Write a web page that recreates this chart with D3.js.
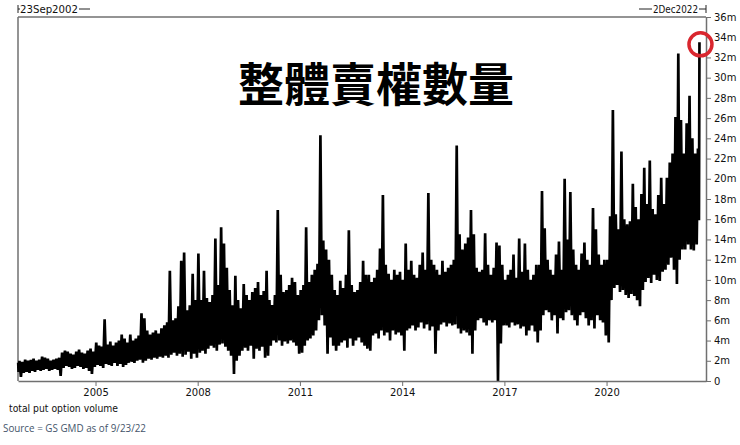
<!DOCTYPE html>
<html><head><meta charset="utf-8">
<script src="https://cdn.jsdelivr.net/npm/d3@7"></script>
<style>body{margin:0;background:#fff}svg{display:block}</style>
</head><body>
<svg id="c" width="740" height="445"></svg>
<script>
// ---- data ----
const startDate = "2002-09-23";
const endDate = "2022-12-02";
const lastDate = "2022-09-23";
const firstMonth = "2002-09-01";
const titleText = "整體賣權數量";
const xTickYears = [2005, 2008, 2011, 2014, 2017, 2020];
const yTickValues = [0,2,4,6,8,10,12,14,16,18,20,22,24,26,28,30,32,34,36];
// monthly high / low of total put option volume (millions), Sep 2002 .. Sep 2022
const monthlyHigh = [
  1.8,2.0,1.9,2.1,                                         // 2002 Sep-Dec
  2.0,2.1,2.2,2.0,2.1,2.4,2.3,2.2,2.0,2.1,2.2,2.3,         // 2003
  2.8,3.0,2.9,2.7,2.6,2.9,3.1,2.8,2.7,3.0,3.2,2.9,         // 2004
  3.8,3.5,3.4,6.1,3.6,3.9,3.5,3.8,4.0,4.6,4.2,3.8,         // 2005
  4.6,4.0,4.2,4.5,6.7,6.2,5.0,4.6,4.8,5.0,4.7,5.2,         // 2006
  5.5,5.8,10.9,6.0,6.2,7.4,11.9,12.7,7.0,7.5,10.6,8.0,     // 2007
  12.6,8.0,10.9,8.2,7.8,8.5,14.1,9.5,15.2,13.6,11.2,9.0,   // 2008
  7.5,10.4,8.0,7.2,9.6,8.5,8.0,8.8,9.2,9.8,8.5,8.9,        // 2009
  10.9,8.0,7.5,8.5,16.9,10.5,8.8,9.0,9.5,10.2,9.8,8.5,     // 2010
  9.0,9.5,15.2,9.8,10.5,11.0,11.6,24.3,13.9,13.0,12.0,10.5,// 2011
  9.0,8.5,9.9,9.2,10.5,14.9,9.5,8.8,9.0,9.8,11.9,10.5,     // 2012
  10.5,9.8,10.2,11.0,13.1,18.4,11.5,10.6,10.0,11.0,10.5,10.8, // 2013
  10.0,13.6,11.0,11.9,10.5,10.2,11.5,12.7,11.0,18.6,12.0,11.5, // 2014
  11.0,10.5,11.9,10.8,11.2,11.5,12.0,23.3,14.5,13.0,13.6,14.2, // 2015
  16.9,14.5,11.2,10.8,11.0,14.6,11.5,10.5,11.2,13.7,13.4,11.5, // 2016
  10.0,10.5,11.0,12.5,10.2,14.1,10.8,13.6,11.0,10.0,10.5,11.5, // 2017
  11.5,18.8,15.1,12.0,11.0,10.5,12.5,13.8,11.0,20.0,14.0,18.7, // 2018
  13.0,11.5,11.0,12.6,13.7,12.0,11.5,17.1,15.0,12.5,11.5,12.0, // 2019
  12.0,16.3,26.8,16.5,15.0,22.7,16.0,15.5,15.8,19.5,17.2,16.0, // 2020
  18.5,21.1,17.5,21.8,17.0,16.5,18.4,20.1,17.5,20.1,21.6,22.5, // 2021
  26.1,32.4,25.8,22.5,25.5,28.2,24.0,22.5,23.0              // 2022 Jan-Sep
];
const monthlyLow = [
  0.9,0.4,0.8,0.9,
  0.8,1.0,0.9,1.1,1.0,1.1,1.2,1.0,1.1,1.2,1.1,0.5,
  1.3,1.5,1.4,1.2,1.3,1.5,1.4,1.2,1.3,1.0,0.7,1.4,
  1.6,1.5,1.3,1.7,1.6,1.5,1.8,1.5,1.7,1.4,1.6,1.8,
  1.9,1.8,2.0,2.1,1.8,2.0,2.2,2.1,2.3,2.2,2.4,2.3,
  2.5,2.3,2.6,2.8,2.5,2.7,2.4,2.6,2.9,2.2,2.7,2.3,
  2.8,3.0,2.7,3.2,3.5,3.3,3.0,3.6,3.7,3.4,3.0,2.5,
  0.7,2.0,2.5,3.0,3.3,3.0,3.5,2.2,3.2,3.0,3.4,2.3,
  2.5,3.5,4.0,3.8,4.0,3.5,3.9,3.7,4.0,3.8,3.5,2.7,
  2.8,3.5,4.0,4.2,4.5,5.0,6.0,6.5,5.5,2.7,4.3,3.5,
  3.0,3.5,3.8,4.0,3.3,4.2,3.5,4.0,4.3,3.8,3.5,3.2,
  3.0,4.5,4.7,4.2,5.0,4.5,4.8,4.0,5.0,4.6,4.8,4.5,
  3.0,5.0,5.2,5.5,5.0,5.3,5.8,5.2,5.6,5.0,5.4,2.7,
  5.0,5.6,5.8,5.4,5.7,5.5,5.6,5.2,4.7,5.0,4.8,4.5,
  2.7,5.0,6.0,6.2,5.8,5.5,6.0,5.8,6.0,0.0,3.7,5.5,
  5.5,5.3,5.8,5.5,5.6,5.2,5.4,4.5,5.0,5.5,4.9,3.8,
  5.0,6.5,7.0,6.8,6.0,6.5,4.7,6.2,6.0,6.8,7.0,6.5,
  6.0,5.5,6.5,6.8,6.2,5.5,6.0,5.2,6.5,6.0,5.8,4.5,
  3.8,8.0,9.2,9.5,8.8,9.0,8.5,8.2,8.6,8.4,8.0,7.4,
  9.0,9.8,10.2,9.7,10.5,10.0,9.9,10.8,11.0,11.5,12.2,11.0,
  9.6,12.0,13.0,13.0,13.5,13.0,12.9,13.5,15.9
];
const lastValue = 33.5;

// ---- chart ----
const parse = d3.utcParse("%Y-%m-%d");
const t0 = parse(startDate), t1 = parse(endDate), tLast = parse(lastDate), m0 = parse(firstMonth);
const svg = d3.select("#c");
const x = d3.scaleUtc().domain([t0, t1]).range([18, 706]);
const y = d3.scaleLinear().domain([0, 36]).range([381, 17]);
const axisColor = "#707070";
const font = "'DejaVu Sans', Verdana, sans-serif";

const pts = [];
monthlyHigh.forEach((h, i) => {
  const ms = d3.utcMonth.offset(m0, i), me = d3.utcMonth.offset(ms, 1);
  const a = Math.max(+ms, +t0), b = Math.min(+me, +tLast);
  const span = b - a;
  pts.push({d: new Date(a + span * 0.25), v: h});
  pts.push({d: new Date(a + span * 0.75), v: monthlyLow[i]});
});
pts.push({d: tLast, v: lastValue});

// frame
svg.append("line").attr("x1", 18).attr("x2", 706).attr("y1", 17).attr("y2", 17)
  .attr("stroke", axisColor).attr("stroke-width", 1.5);
svg.append("line").attr("x1", 18).attr("x2", 18).attr("y1", 17).attr("y2", 381)
  .attr("stroke", axisColor).attr("stroke-width", 1.5);

// series
svg.append("path").datum(pts)
  .attr("d", d3.line().x(p => x(p.d)).y(p => y(p.v)))
  .attr("fill", "none").attr("stroke", "#000").attr("stroke-width", 2.7)
  .attr("stroke-linejoin", "bevel");

// axes
const gx = svg.append("g").attr("transform", "translate(0,381)")
  .call(d3.axisBottom(x).tickValues(xTickYears.map(yr => new Date(Date.UTC(yr, 0, 1))))
    .tickFormat(d3.utcFormat("%Y")).tickSize(5).tickSizeOuter(0));
const gy = svg.append("g").attr("transform", "translate(706,0)")
  .call(d3.axisRight(y).tickValues(yTickValues).tickFormat(d => d === 0 ? "0" : d + "m")
    .tickSize(5).tickSizeOuter(0));
[gx, gy].forEach(g => {
  g.select(".domain").attr("stroke", axisColor).attr("stroke-width", 1.5);
  g.selectAll(".tick line").attr("stroke", axisColor);
  g.selectAll("text").attr("fill", "#111").style("font-family", font).style("font-size", "10px");
});

// top range labels
const rangeG = svg.append("g").attr("stroke", "#222").attr("stroke-width", 1);
rangeG.append("line").attr("x1", 18).attr("x2", 18).attr("y1", 5).attr("y2", 13);
rangeG.append("line").attr("x1", 18).attr("x2", 20).attr("y1", 9).attr("y2", 9);
rangeG.append("line").attr("x1", 79).attr("x2", 90).attr("y1", 9).attr("y2", 9);
rangeG.append("line").attr("x1", 639).attr("x2", 652).attr("y1", 9).attr("y2", 9);
rangeG.append("line").attr("x1", 699).attr("x2", 706).attr("y1", 9).attr("y2", 9);
rangeG.append("line").attr("x1", 706).attr("x2", 706).attr("y1", 5).attr("y2", 13);
svg.append("text").attr("x", 20).attr("y", 13).text(d3.utcFormat("%d%b%Y")(t0))
  .attr("textLength", 58).attr("lengthAdjust", "spacingAndGlyphs")
  .style("font-family", font).style("font-size", "10px").attr("fill", "#111");
svg.append("text").attr("x", 653).attr("y", 13).text(d3.utcFormat("%-d%b%Y")(t1))
  .attr("textLength", 45).attr("lengthAdjust", "spacingAndGlyphs")
  .style("font-family", font).style("font-size", "10px").attr("fill", "#111");

// title
svg.append("text").attr("x", 376).attr("y", 101).attr("text-anchor", "middle")
  .text(titleText)
  .style("font-family", "'Noto Sans CJK TC', 'Noto Sans CJK SC', sans-serif")
  .style("font-size", "46px").style("font-weight", 700).attr("fill", "#000");

// red circle at latest point
svg.append("circle").attr("cx", x(tLast) + 1).attr("cy", y(lastValue) + 2).attr("r", 11.5)
  .attr("fill", "none").attr("stroke", "#d9262e").attr("stroke-width", 3.5);

// bottom notes
svg.append("text").attr("x", 9).attr("y", 412).text("total put option volume")
  .attr("textLength", 109).attr("lengthAdjust", "spacingAndGlyphs")
  .style("font-family", font).style("font-size", "11px").attr("fill", "#111");
svg.append("text").attr("x", 3).attr("y", 432).text("Source = GS GMD as of 9/23/22")
  .attr("textLength", 143).attr("lengthAdjust", "spacingAndGlyphs")
  .style("font-family", "'Open Sans', 'Noto Sans', sans-serif").style("font-size", "10.5px").attr("fill", "#44546a");
</script>
</body></html>
